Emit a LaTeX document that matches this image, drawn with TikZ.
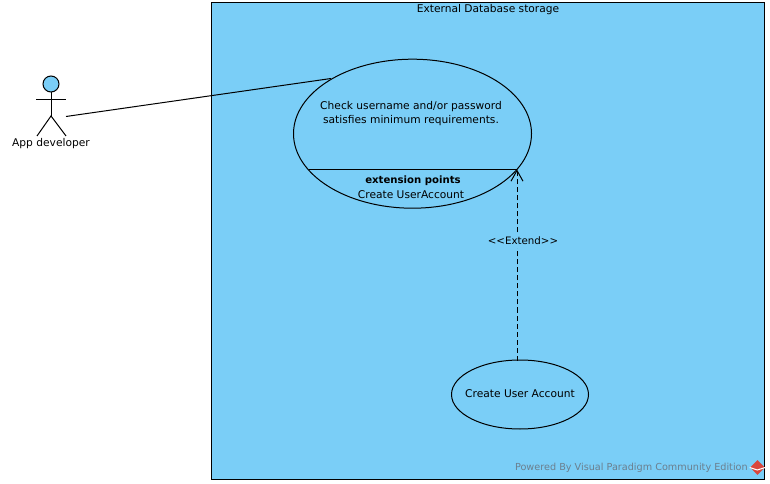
\documentclass[tikz,border=0pt]{standalone}
\usepackage{fontspec}
\setmainfont{DejaVu Sans}
\usetikzlibrary{arrows.meta, shapes.geometric}
\definecolor{vpblue}{HTML}{7ACEF7}
\definecolor{vpgray}{HTML}{6B7F8E}
\definecolor{vpred}{HTML}{D9463C}
\tikzset{
    usecase/.style={ellipse, draw, line width=0.75pt, inner sep=0pt},
    label/.style={font=\fontsize{8pt}{10.5pt}\selectfont, inner sep=0pt, align=center},
    limb/.style={line width=0.75pt}
}

\begin{document}
\begin{tikzpicture}[x=0.75pt, y=-0.75pt]

    \useasboundingbox (0,0) rectangle (770,484);

    % System boundary
    \node[draw, fill=vpblue, line width=0.75pt, minimum width=552.5*0.75pt, minimum height=476.5*0.75pt, inner sep=0pt] (system) at (488,241) {};
    \node[label] (systitle) at (488,10) {External Database storage};

    % Actor
    \node[circle, draw, fill=vpblue, line width=0.75pt, minimum size=16*0.75pt, inner sep=0pt] (head) at (51,84) {};
    \coordinate (hip) at (51,116);
    \coordinate (armleft) at (36,100);
    \coordinate (armright) at (66,100);
    \coordinate (footleft) at (37,136);
    \coordinate (footright) at (66,136);
    \draw[limb] (head) -- (hip);
    \draw[limb] (armleft) -- (armright);
    \draw[limb] (footleft) -- (hip) -- (footright);
    \node[label] (actor) at (51,144) {App developer};
    \coordinate (actorend) at (66,116.5);

    % Check use case
    \node[usecase, minimum width=238*0.75pt, minimum height=149*0.75pt] (check) at (412.5,133.7) {};
    \node[label] (checktext) at (411,114) {Check username and/or password\\satisfies minimum requirements.};
    \coordinate (extleft) at (309,169.5);
    \coordinate (extright) at (517,169.5);
    \draw[line width=0.75pt] (extleft) -- (extright);
    \node[label, font=\fontsize{7.6pt}{10pt}\selectfont\bfseries] (exthead) at (413,181) {extension points};
    \node[label] (extitem) at (411,194.5) {Create UserAccount};
    \coordinate (checkedge) at (331,78.5);
    \draw[line width=0.75pt] (actorend) -- (checkedge);

    % Create use case
    \node[usecase, minimum width=137*0.75pt, minimum height=69*0.75pt] (create) at (520,394.5) {};
    \node[label] (createtext) at (520,393.5) {Create User Account};

    % Extend
    \draw[line width=0.75pt, dash pattern=on 3.75pt off 2.25pt, -{Straight Barb[length=8pt, width=9pt]}] (517,360.5) -- (extright);
    \node[label, fill=vpblue, inner ysep=2pt, font=\fontsize{7.7pt}{10pt}\selectfont] (extend) at (523,241) {<{}<Extend>{}>};

    % Footer
    \node[label, text=vpgray, anchor=east, font=\fontsize{7.25pt}{10pt}\selectfont] (footer) at (748,467.5) {Powered By Visual Paradigm Community Edition};
    \node[diamond, fill=vpred, minimum size=15*0.75pt, inner sep=0pt] (logo) at (757.5,467.5) {};
    \draw[white, line width=0.8pt] (logo.west) -- ++(7.5,2.5) -- (logo.east);

\end{tikzpicture}
\end{document}
